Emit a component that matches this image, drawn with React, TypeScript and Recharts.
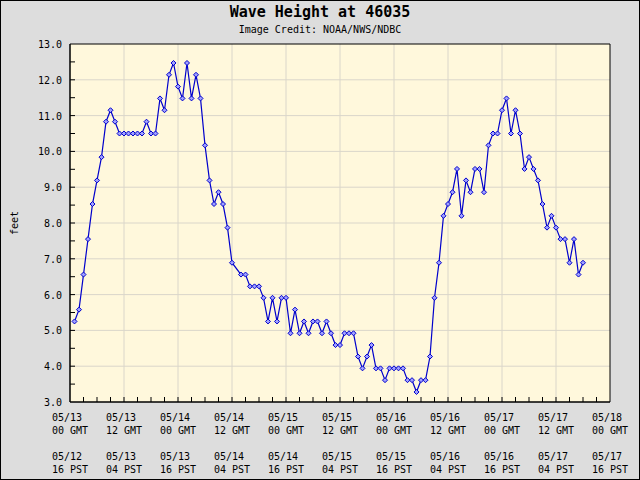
import { LineChart, Line, XAxis, YAxis, CartesianGrid, ReferenceArea } from "recharts";

// hours since 05/13 00 GMT (hour 37 has no reading)
const hours = [
  1, 2, 3, 4, 5, 6, 7, 8, 9, 10, 11, 12, 13, 14, 15, 16, 17, 18, 19, 20,
  21, 22, 23, 24, 25, 26, 27, 28, 29, 30, 31, 32, 33, 34, 35, 36, 38, 39, 40,
  41, 42, 43, 44, 45, 46, 47, 48, 49, 50, 51, 52, 53, 54, 55, 56, 57, 58, 59, 60,
  61, 62, 63, 64, 65, 66, 67, 68, 69, 70, 71, 72, 73, 74, 75, 76, 77, 78, 79, 80,
  81, 82, 83, 84, 85, 86, 87, 88, 89, 90, 91, 92, 93, 94, 95, 96, 97, 98, 99, 100,
  101, 102, 103, 104, 105, 106, 107, 108, 109, 110, 111, 112, 113, 114,
];
const waveFeet = [
  5.25, 5.58, 6.56, 7.55, 8.53, 9.19, 9.84, 10.83, 11.15, 10.83, 10.5, 10.5, 10.5, 10.5, 10.5, 10.5, 10.83, 10.5, 10.5, 11.48,
  11.15, 12.14, 12.47, 11.81, 11.48, 12.47, 11.48, 12.14, 11.48, 10.17, 9.19, 8.53, 8.86, 8.53, 7.87, 6.89, 6.56, 6.56, 6.23,
  6.23, 6.23, 5.91, 5.25, 5.91, 5.25, 5.91, 5.91, 4.92, 5.58, 4.92, 5.25, 4.92, 5.25, 5.25, 4.92, 5.25, 4.92, 4.59, 4.59,
  4.92, 4.92, 4.92, 4.27, 3.94, 4.27, 4.59, 3.94, 3.94, 3.61, 3.94, 3.94, 3.94, 3.94, 3.61, 3.61, 3.28, 3.61, 3.61, 4.27,
  5.91, 6.89, 8.2, 8.53, 8.86, 9.51, 8.2, 9.19, 8.86, 9.51, 9.51, 8.86, 10.17, 10.5, 10.5, 11.15, 11.48, 10.5, 11.15, 10.5,
  9.51, 9.84, 9.51, 9.19, 8.53, 7.87, 8.2, 7.87, 7.55, 7.55, 6.89, 7.55, 6.56, 6.89,
];

const gmtDates = ["05/13", "05/13", "05/14", "05/14", "05/15", "05/15", "05/16", "05/16", "05/17", "05/17", "05/18"];
const gmtHours = ["00 GMT", "12 GMT", "00 GMT", "12 GMT", "00 GMT", "12 GMT", "00 GMT", "12 GMT", "00 GMT", "12 GMT", "00 GMT"];
const pstDates = ["05/12", "05/13", "05/13", "05/14", "05/14", "05/15", "05/15", "05/16", "05/16", "05/17", "05/17"];
const pstHours = ["16 PST", "04 PST", "16 PST", "04 PST", "16 PST", "04 PST", "16 PST", "04 PST", "16 PST", "04 PST", "16 PST"];

const xTicks = Array.from({ length: 41 }, (_, i) => i * 3);
const xGrid = [12, 24, 36, 48, 60, 72, 84, 96, 108];
const yTicks = Array.from({ length: 21 }, (_, i) => 3 + i * 0.5);
const yGrid = [4, 5, 6, 7, 8, 9, 10, 11, 12];

const data = hours.map((h, i) => ({ h, ft: waveFeet[i] }));

const FONT = "'DejaVu Sans Mono', monospace";

function XTick(props: any) {
  const { x, y, payload } = props;
  const v = payload.value;
  const i = v / 12;
  const label = v % 12 === 0;
  return (
    <g>
      {v > 0 && v < 120 && <line x1={x} x2={x} y1={y} y2={y - 5} stroke="#000" />}
      {label && (
        <text x={x - 18} y={y} fontFamily={FONT} fontSize={10} fill="#000" textAnchor="start">
          <tspan x={x - 18} dy={19}>{gmtDates[i]}</tspan>
          <tspan x={x - 18} dy={13}>{gmtHours[i]}</tspan>
          <tspan x={x - 18} dy={26}>{pstDates[i]}</tspan>
          <tspan x={x - 18} dy={13}>{pstHours[i]}</tspan>
        </text>
      )}
    </g>
  );
}

function YTick(props: any) {
  const { x, y, payload } = props;
  const v = payload.value;
  return (
    <g>
      {v > 3 && v < 13 && <line x1={x} x2={x + 5} y1={y} y2={y} stroke="#000" />}
      {Number.isInteger(v) && (
        <text x={x - 8} y={y} dy={4} fontFamily={FONT} fontSize={10} fill="#000" textAnchor="end">
          {v.toFixed(1)}
        </text>
      )}
    </g>
  );
}

function Diamond(props: any) {
  const { cx, cy, index } = props;
  return (
    <path
      key={index}
      d={`M${cx},${cy - 2.5}L${cx + 2.5},${cy}L${cx},${cy + 2.5}L${cx - 2.5},${cy}Z`}
      stroke="#0000cc"
      strokeWidth={1}
      fill="#a0a0ff"
    />
  );
}

export default function App() {
  return (
    <div
      style={{
        position: "absolute",
        left: 0,
        top: 0,
        width: 640,
        height: 480,
        background: "#dddddd",
        boxShadow: "inset 0 0 0 1px #000",
      }}
    >
      <div style={{ position: "absolute", top: 3, width: 640, textAlign: "center", fontFamily: FONT, fontSize: 15, fontWeight: "bold" }}>
        Wave Height at 46035
      </div>
      <div style={{ position: "absolute", top: 24, width: 640, textAlign: "center", fontFamily: FONT, fontSize: 10 }}>
        Image Credit: NOAA/NWS/NDBC
      </div>
      <div
        style={{
          position: "absolute",
          left: 14,
          top: 223,
          transform: "translate(-50%, -50%) rotate(-90deg)",
          fontFamily: FONT,
          fontSize: 10,
        }}
      >
        feet
      </div>
      <LineChart width={640} height={480} data={data} margin={{ top: 44, right: 30, bottom: 0, left: 0 }}>
        <CartesianGrid
          fill="#fff8dc"
          stroke="#dad6ca"
          strokeWidth={1}
          horizontalValues={yGrid}
          verticalValues={xGrid}
        />
        <XAxis
          dataKey="h"
          type="number"
          domain={[0, 120]}
          ticks={xTicks}
          interval={0}
          height={78}
          tickSize={0}
          tickMargin={0}
          tickLine={false}
          axisLine={{ stroke: "#000" }}
          tick={<XTick />}
        />
        <YAxis
          type="number"
          domain={[3, 13]}
          ticks={yTicks}
          interval={0}
          width={70}
          tickSize={0}
          tickMargin={0}
          tickLine={false}
          axisLine={{ stroke: "#000" }}
          tick={<YTick />}
        />
        <ReferenceArea x1={0} x2={120} y1={3} y2={13} fill="none" fillOpacity={0} stroke="#000" strokeOpacity={1} />
        <Line
          dataKey="ft"
          type="linear"
          stroke="#0000cc"
          strokeWidth={1.2}
          dot={Diamond}
          activeDot={false}
          isAnimationActive={false}
        />
      </LineChart>
    </div>
  );
}
